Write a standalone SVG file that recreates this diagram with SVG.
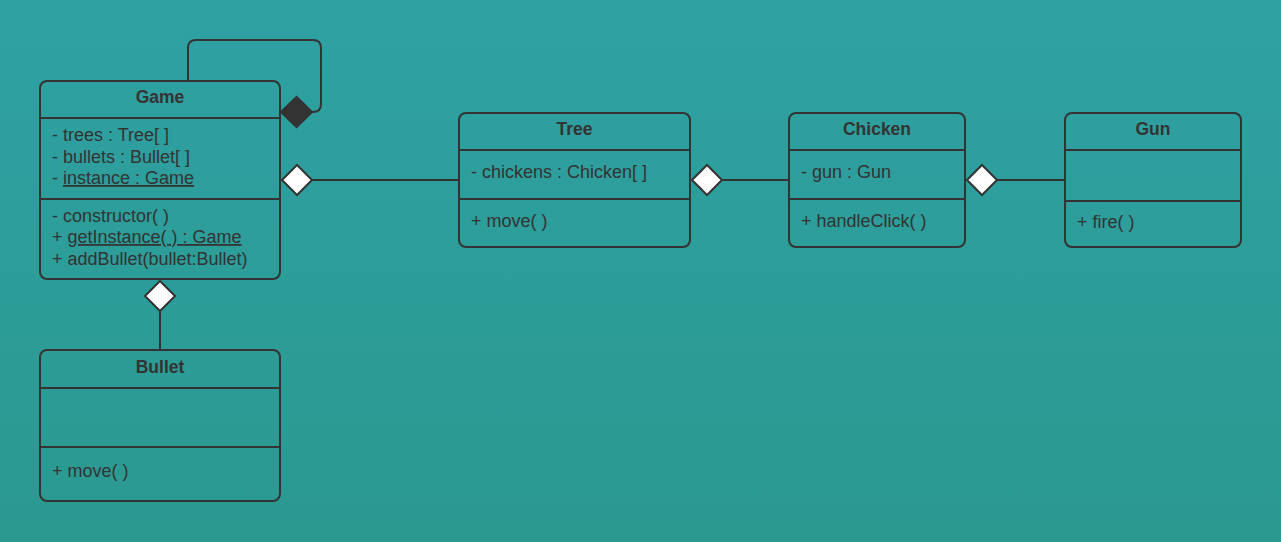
<svg xmlns="http://www.w3.org/2000/svg" width="1281" height="542" viewBox="0 0 1281 542">
<defs>
<linearGradient id="bg" x1="0" y1="0" x2="0" y2="1">
<stop offset="0" stop-color="#2fa1a3"/>
<stop offset="1" stop-color="#2b9990"/>
</linearGradient>
</defs>
<style>
.box{fill:none;stroke:#333;stroke-width:2}
.ln{stroke:#333;stroke-width:2;fill:none}
.t{font-family:"Liberation Sans",Arial,sans-serif;font-size:18px;fill:#333}
.h{font-family:"Liberation Sans",Arial,sans-serif;font-size:17.5px;font-weight:bold;fill:#333;text-anchor:middle}
.u{text-decoration:underline}
.od{fill:#fff;stroke:#333;stroke-width:2}
.fd{fill:#333;stroke:#333;stroke-width:2}
</style>
<rect width="1281" height="542" fill="url(#bg)"/>
<g id="connectors">
<path class="ln" d="M188,81 V48 Q188,40 196,40 H313 Q321,40 321,48 V104 Q321,112 313,112 H311"/>
<polygon class="fd" points="281,112 296.5,97 312,112 296.5,127"/>
<line class="ln" x1="312" y1="180" x2="459" y2="180"/>
<polygon class="od" points="282,180 297,165 312,180 297,195"/>
<line class="ln" x1="722" y1="180" x2="789" y2="180"/>
<polygon class="od" points="692,180 707,165 722,180 707,195"/>
<line class="ln" x1="997" y1="180" x2="1065" y2="180"/>
<polygon class="od" points="967,180 982,165 997,180 982,195"/>
<line class="ln" x1="160" y1="311" x2="160" y2="350"/>
<polygon class="od" points="145,296 160,281 175,296 160,311"/>
</g>
<g id="Game">
<rect class="box" x="40" y="81" width="240" height="198" rx="7"/>
<line class="ln" x1="40" y1="118" x2="280" y2="118"/>
<line class="ln" x1="40" y1="199" x2="280" y2="199"/>
<text class="h" x="160" y="103">Game</text>
<text class="t" x="52" y="141">- trees : Tree[ ]</text>
<text class="t" x="52" y="162.5">- bullets : Bullet[ ]</text>
<text class="t" x="52" y="184">- <tspan class="u">instance : Game</tspan></text>
<text class="t" x="52" y="221.5">- constructor( )</text>
<text class="t" x="52" y="243">+ <tspan class="u">getInstance( ) : Game</tspan></text>
<text class="t" x="52" y="264.5">+ addBullet(bullet:Bullet)</text>
</g>
<g id="Tree">
<rect class="box" x="459" y="113" width="231" height="134" rx="7"/>
<line class="ln" x1="459" y1="150" x2="690" y2="150"/>
<line class="ln" x1="459" y1="199" x2="690" y2="199"/>
<text class="h" x="574.5" y="135">Tree</text>
<text class="t" x="471" y="178">- chickens : Chicken[ ]</text>
<text class="t" x="471" y="227">+ move( )</text>
</g>
<g id="Chicken">
<rect class="box" x="789" y="113" width="176" height="134" rx="7"/>
<line class="ln" x1="789" y1="150" x2="965" y2="150"/>
<line class="ln" x1="789" y1="199" x2="965" y2="199"/>
<text class="h" x="877" y="135">Chicken</text>
<text class="t" x="801" y="178">- gun : Gun</text>
<text class="t" x="801" y="227">+ handleClick( )</text>
</g>
<g id="Gun">
<rect class="box" x="1065" y="113" width="176" height="134" rx="7"/>
<line class="ln" x1="1065" y1="150" x2="1241" y2="150"/>
<line class="ln" x1="1065" y1="201" x2="1241" y2="201"/>
<text class="h" x="1153" y="135">Gun</text>
<text class="t" x="1077" y="228">+ fire( )</text>
</g>
<g id="Bullet">
<rect class="box" x="40" y="350" width="240" height="151" rx="7"/>
<line class="ln" x1="40" y1="388" x2="280" y2="388"/>
<line class="ln" x1="40" y1="447" x2="280" y2="447"/>
<text class="h" x="160" y="373">Bullet</text>
<text class="t" x="52" y="477">+ move( )</text>
</g>
</svg>
